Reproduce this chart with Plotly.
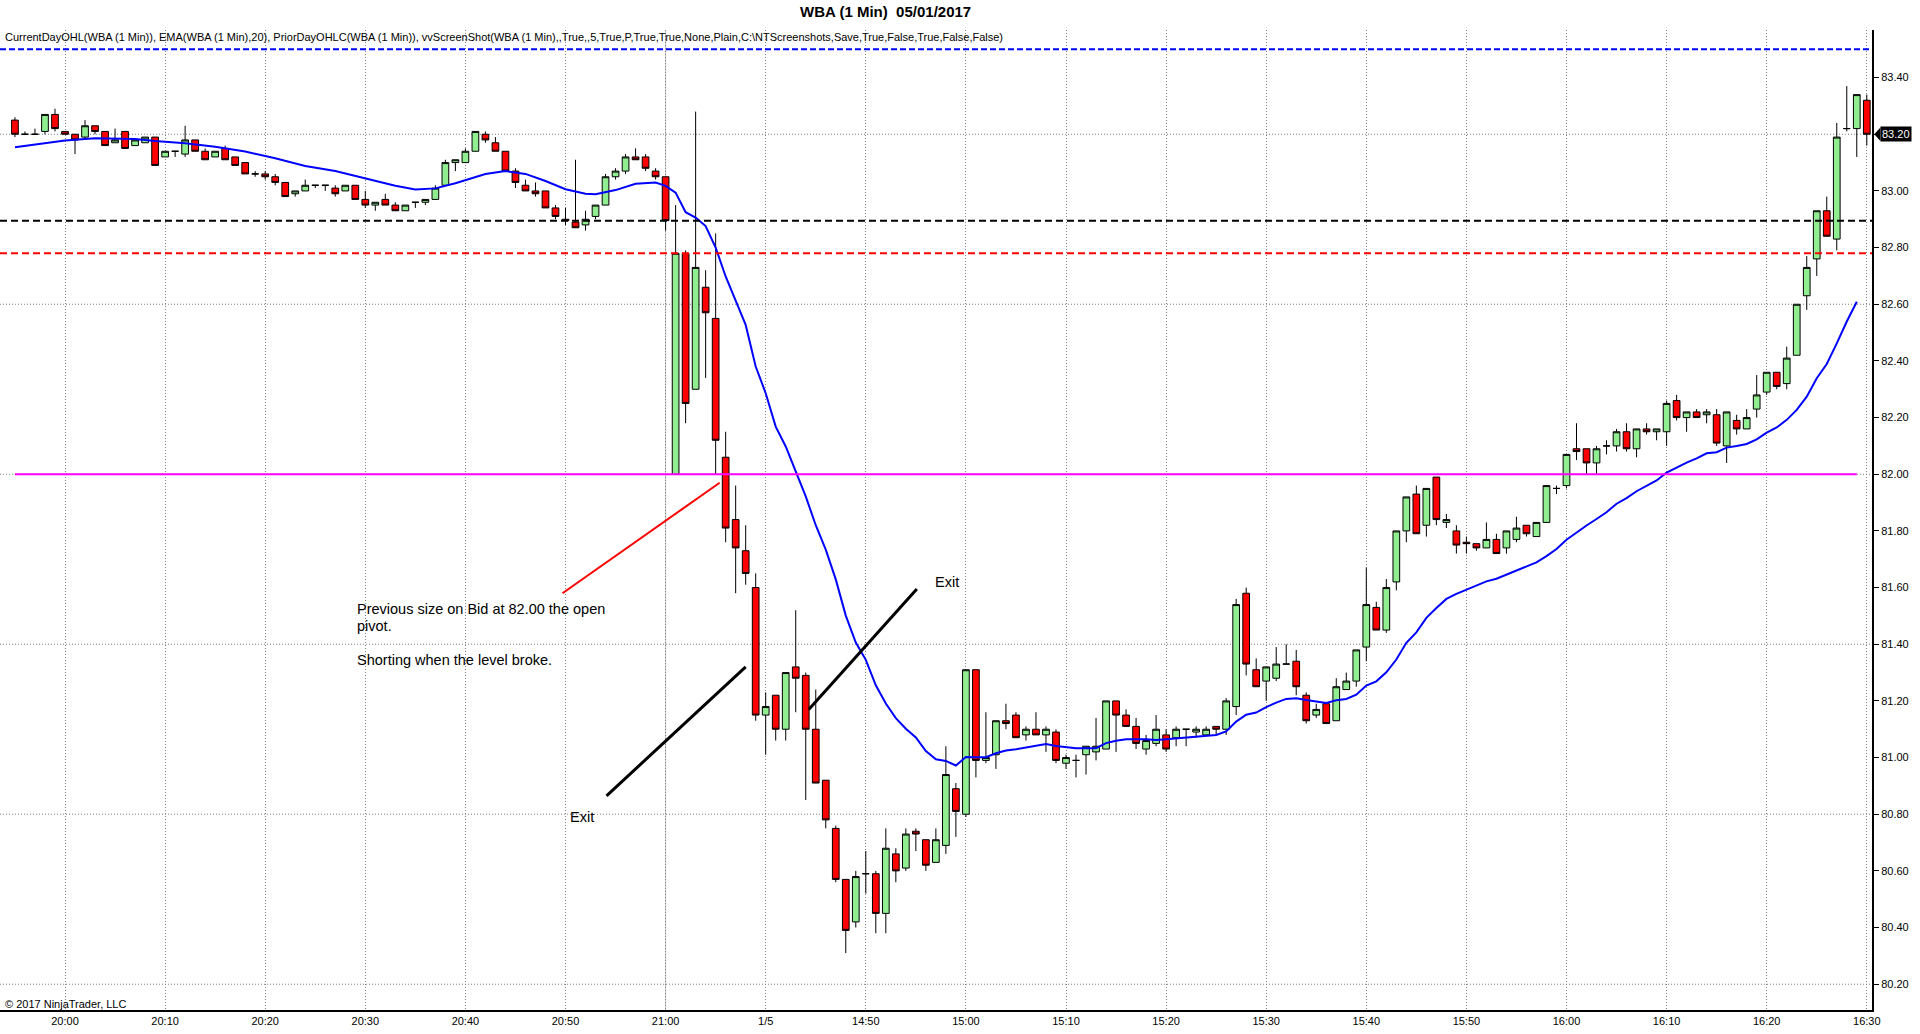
import plotly.graph_objects as go

# WBA 1 minute bars, 19:55 (prior day) .. 16:30 (05/01/2017), bar index = x
opens = [83.25, 83.20, 83.20, 83.21, 83.27, 83.21, 83.20, 83.19, 83.23, 83.21,
         83.17, 83.21, 83.16, 83.17, 83.19, 83.12, 83.14, 83.13, 83.18, 83.14,
         83.12, 83.15, 83.12, 83.10, 83.06, 83.06, 83.05, 83.03, 82.99, 83.00,
         83.02, 83.02, 83.01, 83.00, 83.02, 82.97, 82.95, 82.97, 82.95, 82.93,
         82.96, 82.96, 82.97, 83.02, 83.10, 83.10, 83.14, 83.20, 83.17, 83.14,
         83.07, 83.02, 83.00, 83.00, 82.94, 82.90, 82.89, 82.88, 82.91, 82.95,
         83.05, 83.07, 83.12, 83.12, 83.07, 83.05, 82.00, 82.78, 82.30, 82.66,
         82.55, 82.06, 81.84, 81.73, 81.60, 81.15, 81.22, 81.10, 81.32, 81.29,
         81.10, 80.92, 80.75, 80.57, 80.42, 80.59, 80.59, 80.45, 80.66, 80.61,
         80.74, 80.71, 80.63, 80.69, 80.89, 80.80, 81.31, 80.99, 81.01, 81.13,
         81.15, 81.08, 81.10, 81.08, 81.09, 80.98, 80.99, 81.01, 81.02, 81.03,
         81.20, 81.15, 81.11, 81.03, 81.05, 81.08, 81.07, 81.10, 81.09, 81.08,
         81.11, 81.10, 81.18, 81.58, 81.31, 81.27, 81.28, 81.33, 81.34, 81.22,
         81.15, 81.19, 81.13, 81.24, 81.27, 81.39, 81.53, 81.45, 81.62, 81.80,
         81.93, 81.82, 81.99, 81.83, 81.80, 81.76, 81.755, 81.74, 81.77, 81.74,
         81.77, 81.82, 81.78, 81.83, 81.95, 81.96, 82.09, 82.09, 82.04, 82.10,
         82.10, 82.15, 82.09, 82.16, 82.15, 82.15, 82.26, 82.20, 82.22, 82.21,
         82.21, 82.10, 82.19, 82.16, 82.23, 82.29, 82.36, 82.32, 82.42, 82.63,
         82.76, 82.93, 82.83, 83.22, 83.22, 83.32]
highs = [83.26, 83.21, 83.22, 83.27, 83.29, 83.21, 83.20, 83.25, 83.23, 83.21,
         83.22, 83.21, 83.18, 83.19, 83.19, 83.14, 83.14, 83.23, 83.18, 83.15,
         83.14, 83.16, 83.12, 83.10, 83.07, 83.07, 83.06, 83.03, 83.00, 83.04,
         83.02, 83.02, 83.02, 83.02, 83.02, 83.00, 82.96, 82.99, 82.96, 82.95,
         82.96, 82.97, 83.02, 83.11, 83.11, 83.15, 83.21, 83.21, 83.19, 83.14,
         83.08, 83.04, 83.03, 83.00, 82.95, 82.94, 83.11, 82.93, 82.95, 83.06,
         83.08, 83.13, 83.15, 83.13, 83.08, 83.05, 82.95, 82.79, 83.28, 82.72,
         82.85, 82.15, 81.96, 81.82, 81.65, 81.23, 81.22, 81.30, 81.52, 81.30,
         81.24, 80.92, 80.76, 80.57, 80.60, 80.67, 80.60, 80.75, 80.68, 80.75,
         80.75, 80.71, 80.75, 81.04, 80.91, 81.31, 81.31, 81.16, 81.13, 81.19,
         81.16, 81.11, 81.16, 81.11, 81.10, 81.01, 81.01, 81.04, 81.14, 81.20,
         81.20, 81.17, 81.14, 81.08, 81.15, 81.10, 81.11, 81.10, 81.11, 81.11,
         81.11, 81.21, 81.56, 81.60, 81.35, 81.32, 81.39, 81.40, 81.38, 81.23,
         81.19, 81.19, 81.28, 81.30, 81.38, 81.67, 81.55, 81.63, 81.80, 81.92,
         81.96, 81.95, 81.99, 81.86, 81.82, 81.78, 81.755, 81.83, 81.79, 81.80,
         81.85, 81.82, 81.83, 81.96, 81.96, 82.07, 82.18, 82.09, 82.10, 82.12,
         82.16, 82.18, 82.16, 82.18, 82.16, 82.26, 82.28, 82.22, 82.23, 82.23,
         82.23, 82.22, 82.21, 82.23, 82.35, 82.36, 82.36, 82.45, 82.60, 82.77,
         82.93, 82.98, 83.24, 83.37, 83.34, 83.34]
lows = [83.19, 83.20, 83.20, 83.20, 83.21, 83.20, 83.13, 83.18, 83.20, 83.16,
        83.17, 83.15, 83.16, 83.17, 83.09, 83.12, 83.12, 83.12, 83.14, 83.11,
        83.12, 83.11, 83.09, 83.06, 83.05, 83.04, 83.02, 82.98, 82.98, 83.00,
        83.01, 83.00, 82.98, 83.00, 82.97, 82.94, 82.93, 82.95, 82.93, 82.93,
        82.94, 82.95, 82.97, 83.02, 83.07, 83.10, 83.14, 83.17, 83.14, 83.07,
        83.01, 83.00, 82.98, 82.94, 82.90, 82.88, 82.87, 82.86, 82.90, 82.95,
        83.04, 83.06, 83.11, 83.07, 83.04, 82.86, 82.00, 82.18, 82.30, 82.34,
        82.00, 81.76, 81.58, 81.61, 81.13, 81.01, 81.06, 81.06, 81.16, 80.85,
        80.91, 80.75, 80.56, 80.31, 80.40, 80.52, 80.38, 80.38, 80.56, 80.60,
        80.67, 80.60, 80.63, 80.66, 80.72, 80.79, 80.93, 80.98, 80.96, 81.10,
        81.07, 81.06, 81.08, 81.02, 80.98, 80.96, 80.93, 80.94, 80.99, 81.03,
        81.02, 81.11, 81.03, 81.01, 81.04, 81.02, 81.04, 81.04, 81.07, 81.08,
        81.08, 81.08, 81.15, 81.29, 81.25, 81.20, 81.27, 81.33, 81.22, 81.12,
        81.14, 81.12, 81.13, 81.24, 81.25, 81.34, 81.45, 81.44, 81.59, 81.76,
        81.79, 81.78, 81.82, 81.81, 81.72, 81.72, 81.73, 81.74, 81.72, 81.72,
        81.76, 81.78, 81.78, 81.83, 81.93, 81.95, 82.05, 82.00, 82.00, 82.07,
        82.08, 82.08, 82.06, 82.14, 82.12, 82.10, 82.19, 82.15, 82.20, 82.18,
        82.10, 82.04, 82.14, 82.16, 82.20, 82.28, 82.30, 82.30, 82.42, 82.58,
        82.70, 82.84, 82.79, 83.21, 83.12, 83.16]
closes = [83.20, 83.20, 83.20, 83.27, 83.22, 83.20, 83.18, 83.23, 83.21, 83.16,
          83.18, 83.15, 83.18, 83.19, 83.09, 83.14, 83.14, 83.18, 83.14, 83.11,
          83.14, 83.11, 83.09, 83.06, 83.06, 83.05, 83.03, 82.98, 83.00, 83.02,
          83.02, 83.02, 82.99, 83.02, 82.97, 82.95, 82.96, 82.95, 82.93, 82.95,
          82.96, 82.97, 83.01, 83.10, 83.11, 83.14, 83.21, 83.18, 83.14, 83.07,
          83.03, 83.00, 82.99, 82.94, 82.91, 82.895, 82.87, 82.90, 82.95, 83.05,
          83.07, 83.12, 83.11, 83.08, 83.05, 82.895, 82.78, 82.25, 82.73, 82.57,
          82.12, 81.81, 81.74, 81.65, 81.15, 81.18, 81.10, 81.30, 81.28, 81.10,
          80.91, 80.78, 80.57, 80.39, 80.58, 80.59, 80.45, 80.68, 80.60, 80.73,
          80.73, 80.62, 80.71, 80.94, 80.81, 81.31, 80.99, 81.00, 81.13, 81.12,
          81.07, 81.10, 81.08, 81.10, 80.99, 81.00, 80.99, 81.04, 81.04, 81.20,
          81.15, 81.11, 81.05, 81.06, 81.10, 81.03, 81.10, 81.10, 81.10, 81.10,
          81.10, 81.20, 81.54, 81.33, 81.25, 81.32, 81.33, 81.33, 81.25, 81.13,
          81.17, 81.12, 81.25, 81.27, 81.38, 81.54, 81.45, 81.60, 81.80, 81.92,
          81.79, 81.95, 81.84, 81.84, 81.75, 81.755, 81.74, 81.77, 81.72, 81.80,
          81.81, 81.79, 81.83, 81.96, 81.95, 82.07, 82.08, 82.04, 82.09, 82.10,
          82.15, 82.09, 82.16, 82.15, 82.16, 82.25, 82.20, 82.22, 82.20, 82.22,
          82.11, 82.22, 82.16, 82.20, 82.28, 82.36, 82.31, 82.41, 82.60, 82.73,
          82.93, 82.84, 83.19, 83.22, 83.34, 83.20]
bars = list(range(len(closes)))

# EMA(20) as drawn on the chart
ema_idx = [0, 3, 5, 8, 12, 14, 17, 20, 23, 26, 29, 32, 35, 38, 40, 42, 44, 45, 47, 49,
           51, 53, 55, 57, 58, 60, 62, 64, 65, 66, 67, 68, 69, 70, 71, 72, 73, 74, 75, 76,
           77, 78, 79, 80, 81, 82, 83, 84, 85, 86, 87, 88, 89, 90, 91, 92, 93, 94, 95, 96,
           97, 98, 99, 100, 101, 102, 103, 104, 105, 106, 108, 109, 110, 111, 113, 114, 115, 116, 117, 118,
           119, 120, 121, 122, 123, 124, 125, 126, 127, 128, 129, 130, 131, 132, 133, 134, 135, 136, 137, 138,
           139, 140, 141, 142, 143, 144, 145, 146, 147, 148, 149, 150, 151, 152, 153, 154, 155, 156, 157, 158,
           159, 160, 161, 162, 163, 164, 165, 166, 167, 168, 169, 170, 171, 172, 173, 174, 175, 176, 177, 178,
           179, 180, 181, 182, 183, 184]
ema_val = [83.154, 83.170, 83.178, 83.186, 83.183, 83.176, 83.168, 83.156, 83.139, 83.115,
           83.088, 83.070, 83.044, 83.018, 83.005, 83.009, 83.027, 83.038, 83.060, 83.070,
           83.060, 83.035, 83.006, 82.990, 82.988, 83.003, 83.025, 83.030, 83.018, 82.994,
           82.925, 82.906, 82.876, 82.800, 82.698, 82.613, 82.527, 82.380, 82.286, 82.168,
           82.098, 82.010, 81.922, 81.820, 81.734, 81.629, 81.501, 81.406, 81.345, 81.255,
           81.191, 81.139, 81.102, 81.071, 81.023, 80.994, 80.988, 80.972, 81.002, 81.001,
           81.001, 81.015, 81.025, 81.029, 81.035, 81.042, 81.048, 81.041, 81.036, 81.033,
           81.033, 81.051, 81.059, 81.065, 81.065, 81.062, 81.065, 81.068, 81.071, 81.074,
           81.076, 81.080, 81.092, 81.127, 81.151, 81.159, 81.178, 81.194, 81.207, 81.209,
           81.203, 81.199, 81.193, 81.202, 81.207, 81.222, 81.254, 81.269, 81.301, 81.346,
           81.405, 81.442, 81.493, 81.528, 81.560, 81.578, 81.593, 81.607, 81.622, 81.631,
           81.646, 81.661, 81.675, 81.689, 81.711, 81.736, 81.769, 81.795, 81.819, 81.842,
           81.866, 81.896, 81.916, 81.940, 81.960, 81.978, 82.006, 82.025, 82.041, 82.056,
           82.074, 82.078, 82.094, 82.100, 82.107, 82.123, 82.147, 82.165, 82.192, 82.227,
           82.274, 82.339, 82.389, 82.462, 82.539, 82.609]

# time axis labels
tick_idx = [5, 15, 25, 35, 45, 55, 65, 75, 85, 95, 105, 115, 125, 135, 145, 155, 165, 175, 185]
tick_text = ["20:00", "20:10", "20:20", "20:30", "20:40", "20:50", "21:00", "1/5", "14:50",
             "15:00", "15:10", "15:20", "15:30", "15:40", "15:50", "16:00", "16:10", "16:20", "16:30"]
session_break = 65

# PriorDayOHLC / CurrentDayOHL levels
prior_high = 83.50
prior_close = 82.895
prior_low = 82.78
day_open = 82.00
grid_levels = [83.20, 82.60, 82.00, 81.40, 80.80, 80.20]

FONT = "Liberation Sans, Arial, sans-serif"

fig = go.Figure()

fig.add_trace(go.Candlestick(
    x=bars, open=opens, high=highs, low=lows, close=closes,
    increasing=dict(fillcolor="#90ee90", line=dict(color="black", width=1)),
    decreasing=dict(fillcolor="#ff0000", line=dict(color="black", width=1)),
    whiskerwidth=0, showlegend=False, hoverinfo="skip",
))

fig.add_trace(go.Scatter(
    x=ema_idx, y=ema_val, mode="lines",
    line=dict(color="#0000ff", width=2), showlegend=False, hoverinfo="skip",
))

shapes = []
for g in grid_levels:
    shapes.append(dict(type="line", xref="paper", x0=0, x1=1, yref="y", y0=g, y1=g,
                       line=dict(color="#808080", width=1, dash="1px,2px"), layer="below"))
shapes.append(dict(type="line", xref="x", x0=session_break, x1=session_break, yref="paper", y0=0, y1=1,
                   line=dict(color="#c0c0c0", width=1), layer="below"))
# prior day levels
shapes.append(dict(type="line", xref="paper", x0=0, x1=1, yref="y", y0=prior_high, y1=prior_high,
                   line=dict(color="#0000ff", width=2, dash="6px,3px")))
shapes.append(dict(type="line", xref="paper", x0=0, x1=1, yref="y", y0=prior_close, y1=prior_close,
                   line=dict(color="black", width=2, dash="7px,4px")))
shapes.append(dict(type="line", xref="paper", x0=0, x1=1, yref="y", y0=prior_low, y1=prior_low,
                   line=dict(color="#ff0000", width=2, dash="7px,4px")))
shapes.append(dict(type="line", xref="x", x0=bars[0], x1=ema_idx[-1], yref="y", y0=day_open, y1=day_open,
                   line=dict(color="#ff00ff", width=2)))
# hand drawn lines
shapes.append(dict(type="line", xref="x", yref="y", x0=54.7, y0=81.58, x1=70.4, y1=81.97,
                   line=dict(color="#ff0000", width=2)))
shapes.append(dict(type="line", xref="x", yref="y", x0=59.1, y0=80.865, x1=73.0, y1=81.32,
                   line=dict(color="black", width=3)))
shapes.append(dict(type="line", xref="x", yref="y", x0=79.3, y0=81.17, x1=90.1, y1=81.595,
                   line=dict(color="black", width=3)))
# last price marker arrow
last = closes[-1]
shapes.append(dict(type="path", xref="paper", yref="y",
                   path=f"M 1.0012,{last} L 1.0045,{last + 0.024} L 1.0045,{last - 0.024} Z",
                   fillcolor="black", line=dict(width=0)))

annotations = [
    dict(text="WBA (1 Min)  05/01/2017", xref="paper", yref="paper", x=0.4728, y=1.0184,
         xanchor="center", yanchor="middle", showarrow=False,
         font=dict(family=FONT, size=15, color="black", weight="bold")),
    dict(text="CurrentDayOHL(WBA (1 Min)), EMA(WBA (1 Min),20), PriorDayOHLC(WBA (1 Min)), "
              "vvScreenShot(WBA (1 Min),,True,,5,True,P,True,True,None,Plain,C:\\NTScreenshots,"
              "Save,True,False,True,False,False)",
         xref="paper", yref="paper", x=0.0016, y=0.9929, xanchor="left", yanchor="middle",
         showarrow=False, font=dict(family=FONT, size=11, color="black")),
    dict(text="© 2017 NinjaTrader, LLC", xref="paper", yref="paper", x=0.0016, y=0.0061,
         xanchor="left", yanchor="middle", showarrow=False,
         font=dict(family=FONT, size=11, color="black")),
    dict(text="Previous size on Bid at 82.00 the open", x=34.0, y=81.524, xanchor="left",
         yanchor="middle", showarrow=False, font=dict(family=FONT, size=14.5, color="black")),
    dict(text="pivot.", x=34.0, y=81.465, xanchor="left",
         yanchor="middle", showarrow=False, font=dict(family=FONT, size=14.5, color="black")),
    dict(text="Shorting when the level broke.", x=34.0, y=81.344, xanchor="left",
         yanchor="middle", showarrow=False, font=dict(family=FONT, size=14.5, color="black")),
    dict(text="Exit", x=55.2, y=80.791, xanchor="left", yanchor="middle", showarrow=False,
         font=dict(family=FONT, size=14.5, color="black")),
    dict(text="Exit", x=91.7, y=81.62, xanchor="left", yanchor="middle", showarrow=False,
         font=dict(family=FONT, size=14.5, color="black")),
    dict(text=f"{last:.2f}", xref="paper", yref="y", x=1.0045, y=last, xanchor="left",
         yanchor="middle", showarrow=False, bgcolor="black", borderpad=1,
         font=dict(family=FONT, size=11, color="white")),
]

fig.update_layout(
    width=1920, height=1034,
    margin=dict(l=0, r=48, t=30, b=24, autoexpand=False),
    paper_bgcolor="white", plot_bgcolor="white",
    font=dict(family=FONT, size=11, color="black"),
    showlegend=False,
    boxgap=0.33, boxgroupgap=0,
    shapes=shapes, annotations=annotations,
    xaxis=dict(
        range=[-1.494, 185.52], rangeslider=dict(visible=False),
        tickmode="array", tickvals=tick_idx, ticktext=tick_text,
        showgrid=True, gridcolor="#808080", gridwidth=1, griddash="1px,2px",
        showline=True, linecolor="black", linewidth=2,
        ticks="", zeroline=False, automargin=False, fixedrange=True,
        tickfont=dict(family=FONT, size=11),
    ),
    yaxis=dict(
        range=[80.109, 83.568], side="right",
        tick0=80.2, dtick=0.2, tickformat=".2f",
        showgrid=False, zeroline=False,
        showline=True, linecolor="black", linewidth=2,
        ticks="outside", ticklen=5, tickcolor="black",
        automargin=False, fixedrange=True,
        tickfont=dict(family=FONT, size=11),
    ),
)

# page body has a default margin; remove it so the 1920x1034 figure fills the window
fig.write_html("out.html", config={"displayModeBar": False},
               post_script="document.body.style.margin='0';document.body.style.overflow='hidden';")
